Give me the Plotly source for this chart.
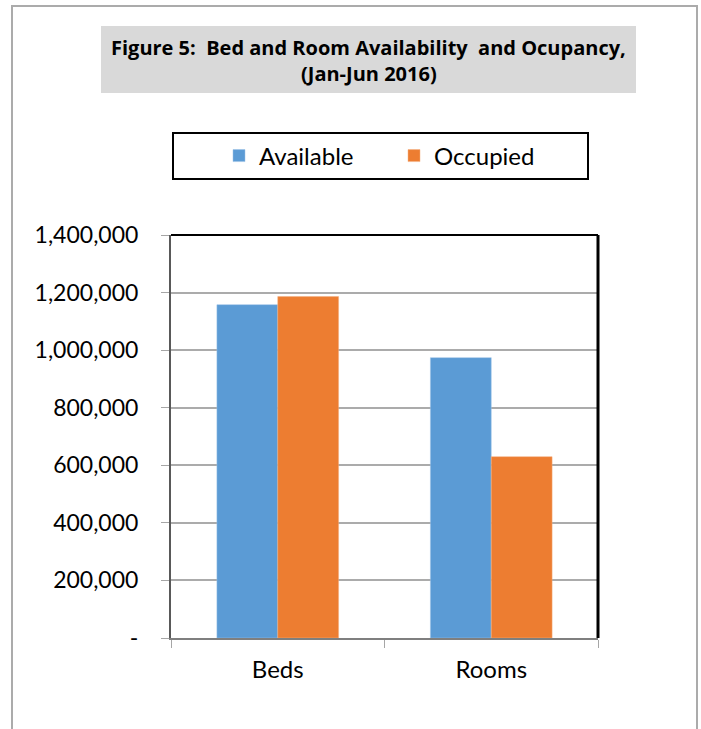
import plotly.graph_objects as go

# ---- data ----
categories = ["Beds", "Rooms"]
available = [1158000, 974000]
occupied = [1186000, 630000]
series_names = ["Available", "Occupied"]
y_tickvals = [0, 200000, 400000, 600000, 800000, 1000000, 1200000, 1400000]
y_ticktext = ["-", "200,000", "400,000", "600,000", "800,000", "1,000,000", "1,200,000", "1,400,000"]
title_lines = ["Figure 5:\u00a0 Bed and Room Availability\u00a0 and Ocupancy,", "(Jan-Jun 2016)"]

W, H = 701, 729
L, R, T, B = 171, 103, 235, 91
PW, PH = W - L - R, H - T - B

def px(x):
    return (x - L) / PW

def py(y):
    return (H - B - y) / PH

FONT = "Lato, Carlito, Calibri, sans-serif"
TFONT = "'Open Sans', Lato, sans-serif"
BLUE = "#5B9BD5"
ORANGE = "#ED7D31"

fig = go.Figure()
fig.add_trace(go.Bar(x=categories, y=available, name=series_names[0],
                     marker=dict(color=BLUE, line=dict(color="#9DC3E6", width=0.5))))
fig.add_trace(go.Bar(x=categories, y=occupied, name=series_names[1],
                     marker=dict(color=ORANGE, line=dict(color="#F4B183", width=0.5))))

shapes = [
    # outer frame
    dict(type="rect", xref="paper", yref="paper", x0=px(12), x1=px(697), y0=py(6), y1=py(740),
         line=dict(color="#ABABAB", width=2), fillcolor="rgba(0,0,0,0)", layer="below"),
    # title box
    dict(type="rect", xref="paper", yref="paper", x0=px(101), x1=px(636), y0=py(26), y1=py(93),
         line=dict(width=0), fillcolor="#D9D9D9", layer="below"),
    # legend box
    dict(type="rect", xref="paper", yref="paper", x0=px(173), x1=px(588), y0=py(133), y1=py(179),
         line=dict(color="black", width=2), fillcolor="rgba(0,0,0,0)"),
    # plot top & right borders
    dict(type="line", xref="paper", yref="paper", x0=0, x1=1, y0=1, y1=1,
         line=dict(color="black", width=2)),
    dict(type="line", xref="paper", yref="paper", x0=1, x1=1, y0=0, y1=1,
         line=dict(color="black", width=3)),
]

annotations = [
    dict(xref="paper", yref="paper", x=px(368.5), y=py(47), text="<b>" + title_lines[0] + "</b>",
         showarrow=False, font=dict(family=TFONT, size=20, color="black"), xanchor="center", yanchor="middle"),
    dict(xref="paper", yref="paper", x=px(368.5), y=py(74), text="<b>" + title_lines[1] + "</b>",
         showarrow=False, font=dict(family=TFONT, size=20, color="black"), xanchor="center", yanchor="middle"),
]

fig.update_layout(
    width=W, height=H,
    margin=dict(l=L, r=R, t=T, b=B, pad=0),
    paper_bgcolor="white", plot_bgcolor="white",
    font=dict(family=FONT, color="black"),
    barmode="group", bargap=0.43, bargroupgap=0,
    showlegend=True,
    legend=dict(orientation="h", xref="paper", yref="paper",
                x=px(219), y=py(156), xanchor="left", yanchor="middle",
                font=dict(family=FONT, size=24, color="black"),
                entrywidth=130, entrywidthmode="pixels",
                bgcolor="rgba(0,0,0,0)", borderwidth=0, traceorder="normal"),
    shapes=shapes, annotations=annotations,
)

fig.update_xaxes(showline=True, linecolor="#7F7F7F", linewidth=2,
                 ticks="outside", ticklen=8, tickcolor="#A6A6A6", tickwidth=1,
                 tickson="boundaries", showgrid=False,
                 tickfont=dict(family=FONT, size=24, color="black"),
                 ticklabelstandoff=9)
fig.update_yaxes(range=[0, 1400000], tickvals=y_tickvals, ticktext=y_ticktext,
                 showline=True, linecolor="#595959", linewidth=2,
                 ticks="outside", ticklen=8, tickcolor="#A6A6A6", tickwidth=1,
                 showgrid=True, gridcolor="#ABABAB", gridwidth=1.5,
                 tickfont=dict(family=FONT, size=23, color="black"),
                 ticklabelstandoff=18, zeroline=False)

fig.write_html("out.html", config={"displayModeBar": False},
               post_script="document.body.style.margin='0px';")
